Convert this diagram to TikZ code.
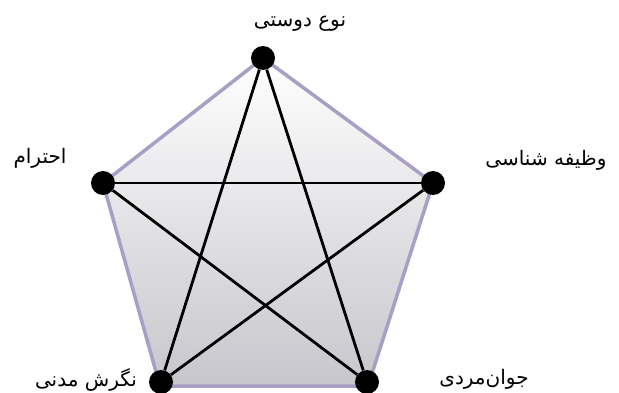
\documentclass[tikz,border=0pt]{standalone}
\usepackage{fontspec}
\newfontfamily\farsifont[Script=Arabic]{DejaVu Sans}
\TeXXeTstate=1
\usetikzlibrary{positioning}
\definecolor{rimcol}{RGB}{168,158,198}
\definecolor{basecol}{RGB}{198,198,204}
\tikzstyle{vert}=[circle,fill=black,minimum size=24pt,inner sep=0pt]
\tikzstyle{lbl}=[font=\farsifont\fontsize{20}{24}\selectfont,inner sep=0pt]
\tikzstyle{edge}=[line width=2.8pt,black]

\begin{document}
\begin{tikzpicture}[x=1pt,y=-1pt]
\useasboundingbox (0,0) rectangle (619,393);
\coordinate (pT) at (263,58);
\coordinate (pR) at (433,183);
\coordinate (pBR) at (368,386);
\coordinate (pBL) at (160,386);
\coordinate (pL) at (103,183);
\shadedraw[top color=white,bottom color=basecol,draw=rimcol,line width=3.5pt,line join=round]
  (pT) -- (pR) -- (pBR) -- (pBL) -- (pL) -- cycle;
\node[vert] (T) at (263,58) {};
\node[vert] (R) at (433,183) {};
\node[vert] (BR) at (367,382) {};
\node[vert] (BL) at (161,382) {};
\node[vert] (L) at (103,183) {};
\draw[edge] (T) -- (BL);
\draw[edge] (T) -- (BR);
\draw[edge] (L) -- (R);
\draw[edge] (L) -- (BR);
\draw[edge] (R) -- (BL);
\node[lbl] (tT) at (300,24) {\beginR نوع دوستی\endR};
\node[lbl] (tL) at (40,158) {\beginR احترام\endR};
\node[lbl] (tR) at (546,160) {\beginR وظیفه شناسی\endR};
\node[lbl] (tBL) at (86,380) {\beginR نگرش مدنی\endR};
\node[lbl] (tBR) at (484,379) {\beginR جوان‌مردی\endR};
\end{tikzpicture}
\end{document}
